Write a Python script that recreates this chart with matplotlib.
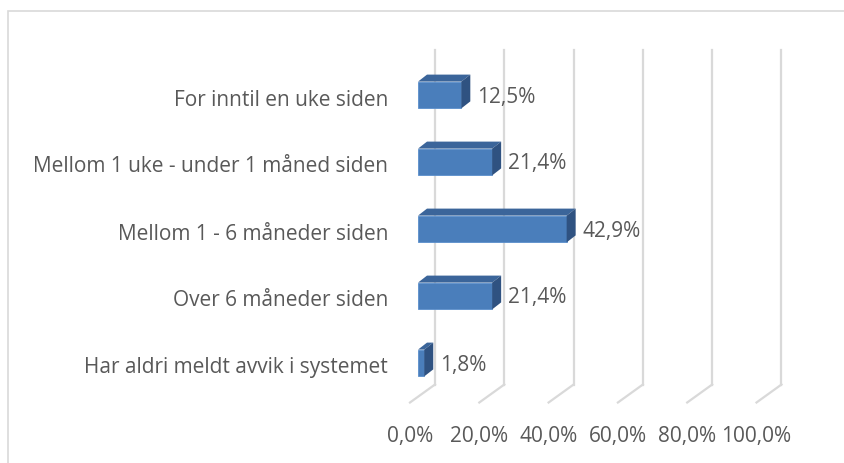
import numpy as np
import matplotlib.pyplot as plt
from matplotlib.patches import Polygon, Rectangle

# data (top to bottom)
categories = [
    "For inntil en uke siden",
    "Mellom 1 uke - under 1 måned siden",
    "Mellom 1 - 6 måneder siden",
    "Over 6 måneder siden",
    "Har aldri meldt avvik i systemet",
]
values = [12.5, 21.4, 42.9, 21.4, 1.8]
value_labels = ["12,5%", "21,4%", "42,9%", "21,4%", "1,8%"]
ticks = [0, 20, 40, 60, 80, 100]
tick_labels = ["0,0%", "20,0%", "40,0%", "60,0%", "80,0%", "100,0%"]

plt.rcParams["font.family"] = ["Open Sans", "DejaVu Sans"]
text_color = "#595959"
font_size = 15

W, H = 844, 463
fig = plt.figure(figsize=(W / 100, H / 100), dpi=100)

# plot area = front plane of the bars
left_px, right_px = 418, 764.5
top_px, bottom_px = 61.5, 396.5
ax = fig.add_axes([left_px / W, 1 - bottom_px / H,
                   (right_px - left_px) / W, (bottom_px - top_px) / H])
ax.set_xlim(0, 100)
ax.set_ylim(len(categories) - 0.5, -0.5)
ax.axis("off")

# pixel -> data conversion for the fake 3D offsets
px_x = 100 / (right_px - left_px)
px_y = len(categories) / (bottom_px - top_px)

def off(dx_px, dy_px):
    # dy_px positive = upwards on screen
    return dx_px * px_x, -dy_px * px_y

back_dx, back_dy = off(17, 12)     # bar front plane -> back wall
floor_dx, floor_dy = off(-8, -6)   # bar front plane -> floor front edge
bar_dx, bar_dy = off(9, 7)         # bar depth

grid_color = "#d9d9d9"
y_top, y_bot = -0.5, len(categories) - 0.5
for t in ticks:
    ax.plot([t + back_dx, t + back_dx], [y_top + back_dy, y_bot + back_dy],
            color=grid_color, lw=1.6, clip_on=False, zorder=1)
    ax.plot([t + back_dx, t + floor_dx], [y_bot + back_dy, y_bot + floor_dy],
            color=grid_color, lw=1.6, clip_on=False, zorder=1)

# 3D bars
bar_h = 0.40
front_color = "#4a7ebb"
top_color = "#3b659a"
side_color = "#2f5281"
for i, v in enumerate(values):
    y0, y1 = i - bar_h / 2, i + bar_h / 2
    ax.add_patch(Rectangle((0, y0), v, bar_h, facecolor=front_color,
                           edgecolor="#5b8fcc", lw=0.6, zorder=3, clip_on=False))
    ax.add_patch(Polygon([(0, y0), (v, y0), (v + bar_dx, y0 + bar_dy), (bar_dx, y0 + bar_dy)],
                         closed=True, facecolor=top_color, edgecolor="none", zorder=3, clip_on=False))
    ax.add_patch(Polygon([(v, y0), (v, y1), (v + bar_dx, y1 + bar_dy), (v + bar_dx, y0 + bar_dy)],
                         closed=True, facecolor=side_color, edgecolor="none", zorder=3, clip_on=False))
    ax.annotate(value_labels[i], xy=(v, i), xytext=(16 * 0.72, -2 * 0.72),
                textcoords="offset points", ha="left", va="center",
                fontsize=font_size, color=text_color, annotation_clip=False)

# category labels
for i, c in enumerate(categories):
    ax.annotate(c, xy=(0, i), xycoords=("axes fraction", "data"),
                xytext=(-30 * 0.72, -5 * 0.72), textcoords="offset points",
                ha="right", va="center", fontsize=font_size, color=text_color,
                annotation_clip=False)

# value axis labels along the floor front edge
for t, lab in zip(ticks, tick_labels):
    ax.annotate(lab, xy=(t, 0), xycoords=("data", "axes fraction"),
                xytext=(-8 * 0.72, -40 * 0.72), textcoords="offset points",
                ha="center", va="center", fontsize=font_size, color=text_color,
                annotation_clip=False)

# chart border
fig.patches.append(Rectangle((8 / W, -0.1), 1.2, 1 - 11 / H + 0.1,
                             transform=fig.transFigure, fill=False,
                             edgecolor=grid_color, lw=1.2))

fig.savefig("out.png", dpi=100, facecolor="white")
